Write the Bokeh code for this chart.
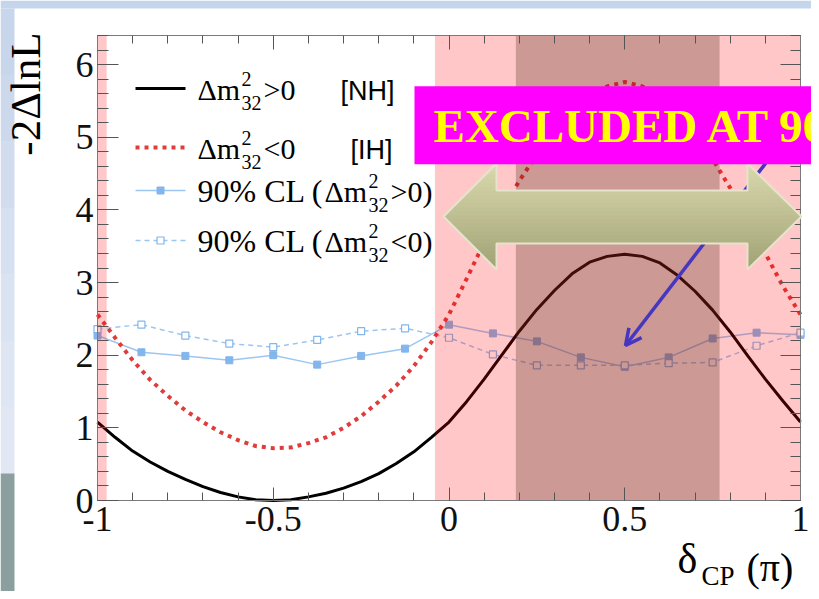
import math
from bokeh.plotting import figure
from bokeh.models import FixedTicker, LinearAxis, Label, Arrow, OpenHead, Range1d
from bokeh.embed import file_html
from bokeh.resources import INLINE

# ---------------- data ----------------
delta = [-1.00, -0.95, -0.90, -0.85, -0.80, -0.75, -0.70, -0.65, -0.60, -0.55,
         -0.50, -0.45, -0.40, -0.35, -0.30, -0.25, -0.20, -0.15, -0.10, -0.05,
         0.00, 0.05, 0.10, 0.15, 0.20, 0.25, 0.30, 0.35, 0.40, 0.45,
         0.50, 0.55, 0.60, 0.65, 0.70, 0.75, 0.80, 0.85, 0.90, 0.95, 1.00]
nh_chi2 = [1.08, 0.87, 0.68, 0.53, 0.40, 0.29, 0.19, 0.11, 0.05, 0.01,
           0.00, 0.01, 0.05, 0.10, 0.17, 0.26, 0.37, 0.51, 0.67, 0.87,
           1.08, 1.36, 1.67, 2.00, 2.33, 2.63, 2.89, 3.12, 3.28, 3.36,
           3.39, 3.36, 3.27, 3.10, 2.88, 2.62, 2.32, 1.99, 1.67, 1.37, 1.08]
ih_chi2 = [2.56, 2.24, 1.93, 1.66, 1.44, 1.24, 1.08, 0.94, 0.83, 0.75,
           0.72, 0.73, 0.79, 0.87, 1.00, 1.16, 1.36, 1.58, 1.85, 2.18,
           2.56, 3.05, 3.55, 4.00, 4.40, 4.76, 5.08, 5.35, 5.55, 5.70,
           5.76, 5.70, 5.55, 5.33, 5.05, 4.70, 4.30, 3.86, 3.40, 2.95, 2.56]
cl_delta = [-1.0, -0.875, -0.75, -0.625, -0.5, -0.375, -0.25, -0.125, 0.0,
            0.125, 0.25, 0.375, 0.5, 0.625, 0.75, 0.875, 1.0]
cl_nh = [2.27, 2.04, 1.99, 1.93, 2.00, 1.87, 1.99, 2.09, 2.42,
         2.30, 2.19, 1.97, 1.84, 1.97, 2.23, 2.31, 2.28]
cl_ih = [2.36, 2.42, 2.27, 2.16, 2.11, 2.21, 2.33, 2.37, 2.24,
         2.01, 1.86, 1.86, 1.86, 1.89, 1.90, 2.13, 2.31]
excl_light_lo = [-1.0, -0.04, 0.77]
excl_light_hi = [-0.974, 0.19, 1.0]
excl_dark_lo = [0.19]
excl_dark_hi = [0.77]
x_ticks = [-1.0, -0.5, 0.0, 0.5, 1.0]
x_tick_labels = ["-1", "-0.5", "0", "0.5", "1"]
x_minor = [-1.0, -0.9, -0.8, -0.7, -0.6, -0.5, -0.4, -0.3, -0.2, -0.1, 0.0,
           0.1, 0.2, 0.3, 0.4, 0.5, 0.6, 0.7, 0.8, 0.9, 1.0]
y_ticks = [0, 1, 2, 3, 4, 5, 6]
y_tick_labels = ["0", "1", "2", "3", "4", "5", "6"]
y_minor = [0.0, 0.2, 0.4, 0.6, 0.8, 1.0, 1.2, 1.4, 1.6, 1.8, 2.0, 2.2, 2.4, 2.6,
           2.8, 3.0, 3.2, 3.4, 3.6, 3.8, 4.0, 4.2, 4.4, 4.6, 4.8, 5.0, 5.2, 5.4,
           5.6, 5.8, 6.0, 6.2, 6.4]

# ---------------- layout helpers (canvas pixel -> data) ----------------
XMIN, XMAX, YMIN, YMAX = -1.0, 1.0, 0.0, 6.4
FL, FR, FT, FB = 97.0, 800.0, 35.0, 500.0   # plot box edges on the canvas
W, H = 811, 591


def X(px):
    return XMIN + (XMAX - XMIN) * (px - FL) / (FR - FL)


def Y(py):
    return YMIN + (YMAX - YMIN) * (FB - py) / (FB - FT)


SERIF = "Liberation Serif"
SANS = "Liberation Sans"
AXIS_GRAY = "#7a7a7a"
TICK_GRAY = "#555555"
CL_LINE = "#9cc6f2"
CL_MARK = "#82b6ec"
RED = "#e03c3c"
BLUE = "#4636c0"
BASE_SHIFT = 0.36   # label anchor offset (fraction of font size) for alphabetic text

# the frame covers the whole canvas; axes are pinned to the plot box
p = figure(width=W, height=H, output_backend="svg", toolbar_location=None,
           x_range=Range1d(X(0), X(W)), y_range=Range1d(Y(H), Y(0)),
           min_border=0, min_border_left=0, min_border_right=0,
           min_border_top=0, min_border_bottom=0)
p.grid.visible = False
p.background_fill_color = "white"
p.border_fill_color = "white"
p.outline_line_color = None

# slide background strips
p.quad(left=[X(0)], right=[X(W)], bottom=[Y(8)], top=[Y(0)],
       fill_color="#c4d5ec", line_alpha=0)
strip_cols = ["#c8d6ec", "#ccd9ed", "#d1dcef", "#d5e0f1", "#dae3f2", "#dee6f3", "#e1e8f4"]
seg = (473.0 - 8.0) / len(strip_cols)
for i, c in enumerate(strip_cols):
    p.quad(left=[X(0)], right=[X(14)], top=[Y(8 + i * seg)], bottom=[Y(8 + (i + 1) * seg + 0.5)],
           fill_color=c, line_alpha=0)
p.quad(left=[X(0)], right=[X(14)], top=[Y(473)], bottom=[Y(H)],
       fill_color="#8c9f9f", line_alpha=0)


def style_axis(ax, ticks, minor, labels, tin, tmin, loc, bounds, show_labels=True):
    ax.ticker = FixedTicker(ticks=ticks, minor_ticks=minor)
    if show_labels:
        ax.major_label_overrides = {t: s for t, s in zip(ticks, labels)}
    else:
        ax.major_label_overrides = {t: "" for t in ticks}
    ax.fixed_location = loc
    ax.bounds = bounds
    ax.major_tick_in = tin
    ax.major_tick_out = 0
    ax.minor_tick_in = tmin
    ax.minor_tick_out = 0
    ax.axis_line_color = AXIS_GRAY
    ax.major_tick_line_color = TICK_GRAY
    ax.minor_tick_line_color = TICK_GRAY
    ax.major_label_text_font = SERIF
    ax.major_label_text_font_size = "36px"
    ax.major_label_text_color = "#111111"


xa = p.xaxis[0]
style_axis(xa, x_ticks, x_minor, x_tick_labels, 13, 8, YMIN, (XMIN, XMAX))
xa.major_label_standoff = 6
ya = p.yaxis[0]
style_axis(ya, y_ticks, y_minor, y_tick_labels, 21, 11, XMIN, (YMIN, YMAX))
ya.major_label_standoff = 4

ra = LinearAxis()
style_axis(ra, y_ticks, y_minor, y_tick_labels, 20, 10, XMAX, (YMIN, YMAX), show_labels=False)
p.add_layout(ra, "right")
ta = LinearAxis()
style_axis(ta, x_ticks, x_minor, x_tick_labels, 14, 8, YMAX, (XMIN, XMAX), show_labels=False)
p.add_layout(ta, "above")

# ---------------- curves ----------------
p.line(cl_delta, cl_nh, line_color=CL_LINE, line_width=1.5)
p.scatter(cl_delta, cl_nh, marker="square", size=7, fill_color=CL_MARK, line_color=CL_MARK)
p.line(cl_delta, cl_ih, line_color=CL_LINE, line_width=1.5, line_dash="5 4")
p.scatter(cl_delta, cl_ih, marker="square", size=7, fill_color="white",
          line_color=CL_MARK, line_width=1.2)
p.line(delta, ih_chi2, line_color=RED, line_width=4, line_dash="4 5")
p.line(delta, nh_chi2, line_color="black", line_width=3)

# excluded regions (drawn over the curves)
p.quad(left=excl_light_lo, right=excl_light_hi, bottom=YMIN, top=YMAX,
       fill_color="#ff0000", fill_alpha=0.22, line_alpha=0)
p.quad(left=excl_dark_lo, right=excl_dark_hi, bottom=YMIN, top=YMAX,
       fill_color="#901c11", fill_alpha=0.45, line_alpha=0)

# ---------------- legend ----------------
LX0, LX1, LXM = 135, 185, 160
p.line([X(LX0), X(LX1)], [Y(88), Y(88)], line_color="black", line_width=3)
p.line([X(LX0), X(LX1)], [Y(147), Y(147)], line_color=RED, line_width=4, line_dash="4 5")
p.line([X(LX0), X(LX1)], [Y(190), Y(190)], line_color=CL_LINE, line_width=1.5)
p.scatter([X(LXM)], [Y(190)], marker="square", size=7, fill_color=CL_MARK, line_color=CL_MARK)
p.line([X(LX0), X(LX1)], [Y(240), Y(240)], line_color=CL_LINE, line_width=1.5, line_dash="5 4")
p.scatter([X(LXM)], [Y(240)], marker="square", size=7, fill_color="white",
          line_color=CL_MARK, line_width=1.2)


def txt(px, base, s, size, font=SERIF, **kw):
    opts = dict(text_font=font, text_font_size=f"{size}px", text_baseline="alphabetic",
                text_align="left", text_color="black")
    opts.update(kw)
    p.add_layout(Label(x=X(px), y=Y(base - BASE_SHIFT * size), text=s, **opts))


def dm32(px, base, rel):
    txt(px, base, "\u0394m", 30)
    txt(px + 44, base - 14, "2", 20)
    txt(px + 44, base + 10, "32", 20)
    txt(px + 66, base, rel, 30)


dm32(197, 100, ">0")
txt(340, 100, "[NH]", 27, font=SANS)
dm32(197, 159, "<0")
txt(350, 159, "[IH]", 27, font=SANS)
txt(197, 202, "90% CL (", 32)
dm32(324, 202, ">0)")
txt(197, 252, "90% CL (", 32)
dm32(324, 252, "<0)")

# ---------------- axis titles ----------------
p.add_layout(Label(x=X(40 - BASE_SHIFT * 43), y=Y(32), text="-2\u0394lnL", angle=math.pi / 2,
                   text_align="right", text_baseline="alphabetic", text_font=SERIF,
                   text_font_size="43px", text_color="black"))
txt(677, 574, "\u03b4", 42)
txt(701, 585, "CP", 27)
txt(746, 581, "(\u03c0)", 40)

# ---------------- slide annotations ----------------
p.add_layout(Arrow(x_start=X(775), y_start=Y(150), x_end=X(625), y_end=Y(345),
                   line_color=BLUE, line_width=3.5,
                   end=OpenHead(size=16, line_color=BLUE, line_width=3.5)))

# khaki double-headed arrow with vertical shading
TIP_L, BASE_L, BASE_R, TIP_R = 443.0, 496.0, 747.0, 801.0
AY0, AYM, AY1 = 163.0, 216.0, 269.0
SY0, SY1 = 190.0, 243.0


def xl(y):
    return TIP_L + abs(y - AYM)


def xr(y):
    return TIP_R - abs(y - AYM)


breaks = sorted(set([AY0 + 4 * i for i in range(27)] + [AY0, SY0, AYM, SY1, AY1]))
breaks = [b for b in breaks if AY0 <= b <= AY1]
top_c, bot_c = (219, 217, 174), (160, 163, 118)
sx, sy, sc = [], [], []
for a, b in zip(breaks[:-1], breaks[1:]):
    a2, b2 = max(a - 0.4, AY0), min(b + 0.4, AY1)
    t = ((a + b) / 2 - AY0) / (AY1 - AY0)
    col = "#%02x%02x%02x" % tuple(int(round(c0 + (c1 - c0) * t)) for c0, c1 in zip(top_c, bot_c))
    if SY0 <= (a + b) / 2 <= SY1:
        polys = [[(xl(a2), a2), (xr(a2), a2), (xr(b2), b2), (xl(b2), b2)]]
    else:
        polys = [[(xl(a2), a2), (BASE_L, a2), (BASE_L, b2), (xl(b2), b2)],
                 [(BASE_R, a2), (xr(a2), a2), (xr(b2), b2), (BASE_R, b2)]]
    for poly in polys:
        sx.append([X(q[0]) for q in poly])
        sy.append([Y(q[1]) for q in poly])
        sc.append(col)
shade = p.patches(sx, sy, fill_color=sc, line_alpha=0)
shade.level = "overlay"
outline_pts = [(TIP_L, AYM), (BASE_L, AY0), (BASE_L, SY0), (BASE_R, SY0), (BASE_R, AY0),
               (TIP_R, AYM), (BASE_R, AY1), (BASE_R, SY1), (BASE_L, SY1), (BASE_L, AY1)]
outl = p.patch([X(q[0]) for q in outline_pts], [Y(q[1]) for q in outline_pts],
               fill_alpha=0, line_color="#e6e4cc", line_width=2)
outl.level = "overlay"

p.add_layout(Label(x=X(414), y=Y(85.7), text="EXCLUDED AT 90%", text_font=SERIF,
                   text_font_style="bold", text_font_size="47px", text_color="#ffff00",
                   text_baseline="top", text_align="left", background_fill_color="#ff00ff",
                   padding=dict(left=19, right=40, top=14, bottom=12), level="overlay"))

open("out.html", "w").write(file_html(p, INLINE))
